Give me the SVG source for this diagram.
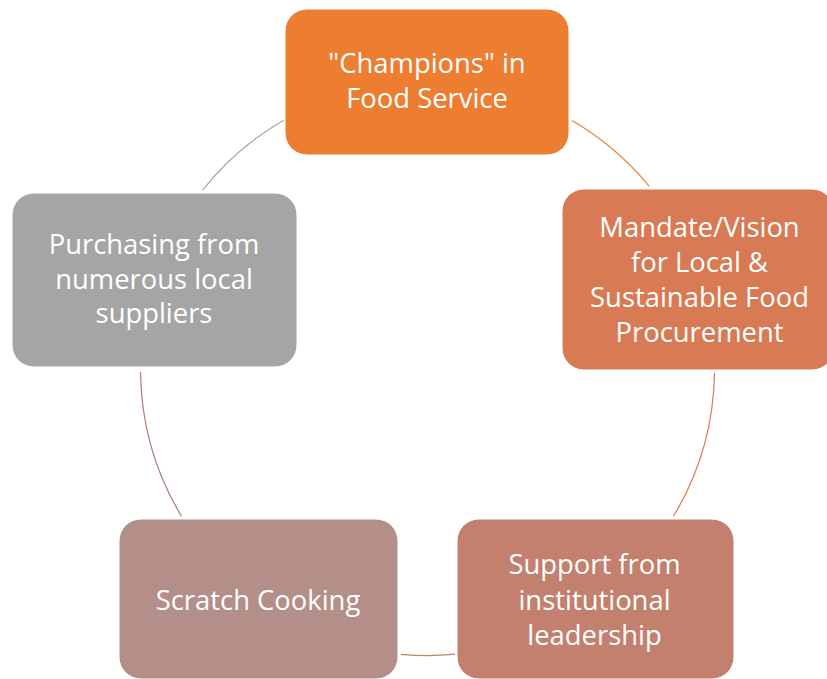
<svg xmlns="http://www.w3.org/2000/svg" width="827" height="679" viewBox="0 0 827 679">
  <style>
    .box { stroke: #ffffff; stroke-width: 1; }
    .lbl { font-family: "Open Sans", "Noto Sans", "Liberation Sans", sans-serif; font-size: 27.4px; fill: #ffffff; text-anchor: middle; }
    .arc { fill: none; stroke-width: 1.2; }
  </style>
  <rect width="827" height="679" fill="#ffffff"/>

  <!-- connectors: arcs of one circle (centre 427.5,368.5; r 287), coloured by source node -->
  <g id="connectors">
    <path class="arc" stroke="#ED7D31" d="M571.9,120.4 A287,287 0 0 1 649.3,186.3"/>
    <path class="arc" stroke="#D87A53" d="M714.5,373 A287,287 0 0 1 673.5,516.3"/>
    <path class="arc" stroke="#C4806E" d="M455,654.2 A287,287 0 0 1 401,654.3"/>
    <path class="arc" stroke="#B07E74" d="M181.5,516.3 A287,287 0 0 1 140.5,372"/>
    <path class="arc" stroke="#A5A5A5" d="M202.6,190.2 A287,287 0 0 1 283.6,120.2"/>
  </g>

  <g id="champions">
    <rect class="box" x="285" y="9" width="284" height="146" rx="22" fill="#ED7D31"/>
    <text class="lbl" x="427" y="73">"Champions" in</text>
    <text class="lbl" x="427" y="107.5">Food Service</text>
  </g>

  <g id="mandate">
    <rect class="box" x="562" y="189" width="272" height="181" rx="22" fill="#D87A53"/>
    <text class="lbl" x="699.5" y="236.5">Mandate/Vision</text>
    <text class="lbl" x="699.5" y="271.5">for Local &amp;</text>
    <text class="lbl" x="699.5" y="306.5">Sustainable Food</text>
    <text class="lbl" x="699.5" y="341.5">Procurement</text>
  </g>

  <g id="support">
    <rect class="box" x="457" y="519" width="277" height="160" rx="22" fill="#C4806E"/>
    <text class="lbl" x="594.5" y="573.5">Support from</text>
    <text class="lbl" x="594.5" y="609.5">institutional</text>
    <text class="lbl" x="594.5" y="645">leadership</text>
  </g>

  <g id="scratch">
    <rect class="box" x="119" y="519" width="279" height="160" rx="22" fill="#B48F89"/>
    <text class="lbl" x="258" y="610">Scratch Cooking</text>
  </g>

  <g id="purchasing">
    <rect class="box" x="12" y="193" width="285" height="174" rx="22" fill="#A5A5A5"/>
    <text class="lbl" x="154" y="254">Purchasing from</text>
    <text class="lbl" x="154" y="289">numerous local</text>
    <text class="lbl" x="154" y="323">suppliers</text>
  </g>
</svg>
